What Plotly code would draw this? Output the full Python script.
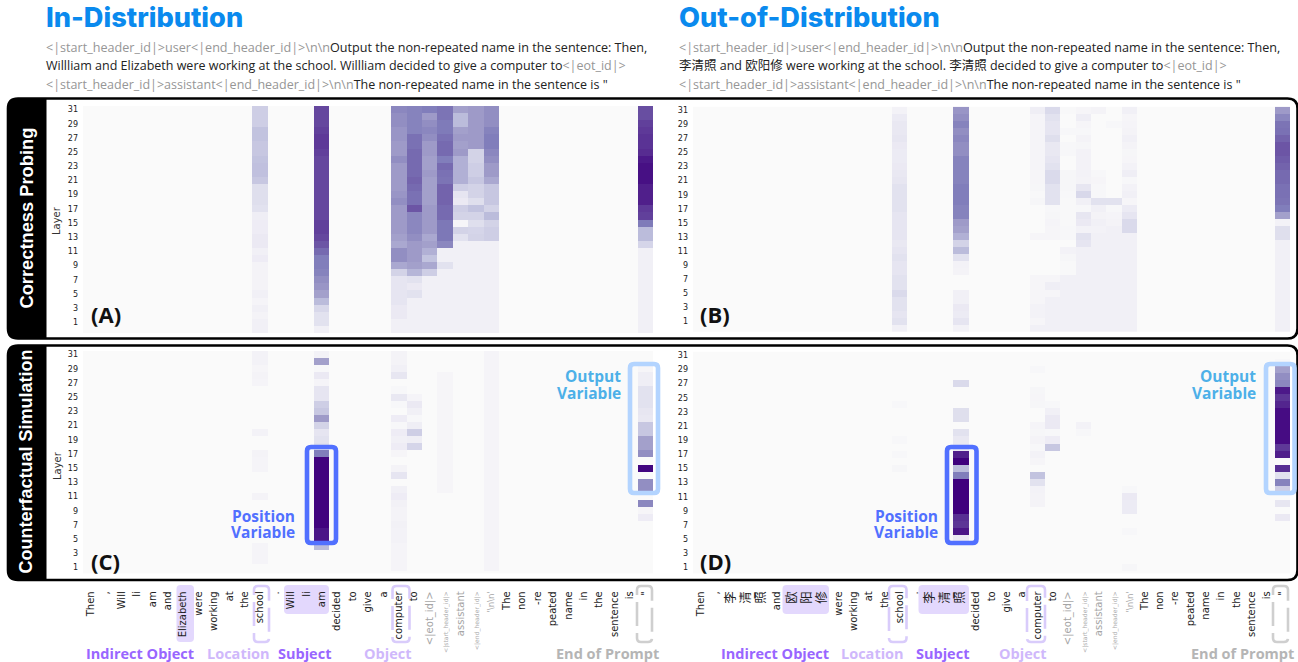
import plotly.graph_objects as go

W, H = 1298, 662

tokens_id = ["Then", ",", "Will", "li", "am", "and", "Elizabeth", "were", "working", "at", "the", "school", ".",
             "Will", "li", "am", "decided", "to", "give", "a", "computer", "to", "<|eot_id|>", "<|start_header_id|>",
             "assistant", "<|end_header_id|>", "'\\n\\n'", "The", "non", "-re", "peated", "name", "in", "the",
             "sentence", "is", "\""]
tokens_ood = ["Then", ",", "李", "清", "照", "and", "欧", "阳", "修", "were", "working", "at", "the", "school", ".",
              "李", "清", "照", "decided", "to", "give", "a", "computer", "to", "<|eot_id|>", "<|start_header_id|>",
              "assistant", "<|end_header_id|>", "'\\n\\n'", "The", "non", "-re", "peated", "name", "in", "the",
              "sentence", "is", "\""]
layers = list(range(32))
layer_ticks = list(range(1, 32, 2))

# Every column lists layers 31 -> 0 (groups: 31-21, 20-10, 9-0)
A_11 = [.30,.30,.30,.35,.35,.33,.33,.35,.36,.36,.33, .22,.22,.22,.20,.12,.13,.13,.15,.15,.10,.13, .07,.07,.07,.07,.10,.06,.10,.07,.10,.10]
A_15 = [.78,.78,.78,.80,.82,.82,.80,.78,.78,.78,.78, .78,.78,.78,.78,.78,.80,.80,.78,.74,.68,.62, .62,.60,.55,.52,.48,.38,.26,.20,.20,.10]
A_20 = [.58,.55,.55,.52,.52,.50,.50,.55,.50,.50,.50, .50,.52,.55,.50,.50,.50,.50,.48,.45,.55,.55, .45,.28,.18,.18,.18,.18,.15,.15,.10,.10]
A_21 = [.60,.60,.60,.60,.66,.66,.68,.68,.68,.68,.70, .68,.66,.66,.74,.58,.58,.58,.55,.50,.50,.50, .48,.40,.20,.15,.20,.10,.10,.10,.10,.10]
A_22 = [.62,.50,.55,.58,.55,.50,.50,.48,.48,.50,.48, .48,.48,.48,.50,.50,.50,.50,.45,.48,.42,.35, .45,.30,.10,.10,.10,.10,.10,.10,.10,.10]
A_23 = [.65,.65,.63,.63,.66,.68,.68,.62,.68,.66,.65, .70,.70,.70,.68,.68,.64,.64,.64,.58,.10,.10, .20,.10,.10,.10,.10,.10,.10,.10,.10,.10]
A_24 = [.48,.38,.38,.48,.50,.48,.50,.42,.42,.42,.42, .30,.18,.15,.30,.28,.05,.28,.20,.10,.10,.10, .10,.10,.10,.10,.10,.10,.10,.10,.10,.10]
A_25 = [.50,.50,.50,.50,.50,.50,.28,.28,.30,.30,.33, .28,.28,.22,.35,.28,.22,.27,.28,.10,.10,.10, .10,.10,.10,.10,.10,.10,.10,.10,.10,.10]
A_26 = [.55,.55,.55,.60,.62,.62,.58,.55,.50,.50,.45, .33,.33,.33,.28,.38,.28,.30,.30,.10,.10,.10, .10,.10,.10,.10,.10,.10,.10,.10,.10,.10]
A_36 = [.76,.76,.80,.82,.84,.84,.86,.92,.95,.95,.95, .90,.90,.90,.82,.80,.63,.38,.38,.27,.10,.10, .10,.10,.10,.10,.10,.10,.10,.10,.10,.10]

B_13 = [.08,.14,.16,.16,.17,.15,.14,.14,.15,.16,.17, .20,.20,.20,.20,.18,.18,.18,.18,.16,.18,.20, .18,.18,.20,.20,.25,.20,.20,.18,.20,.10]
B_17 = [.52,.55,.60,.55,.58,.55,.55,.60,.60,.60,.60, .62,.62,.62,.60,.60,.50,.48,.42,.28,.38,.20, .08,.07,.00,.00,.10,.10,.15,.14,.18,.08]
B_22 = [.12,.06,.06,.06,.06,.06,.06,.06,.06,.05,.05, .04,.02,.04,.00,.00,.00,.00,.05,.00,.00,.00, .00,.00,.05,.05,.05,.05,.08,.08,.05,.10]
B_23 = [.25,.20,.18,.18,.22,.16,.16,.18,.20,.25,.25, .20,.20,.20,.03,.04,.06,.05,.05,.00,.00,.00, .00,.00,.05,.12,.05,.10,.10,.10,.10,.10]
B_24 = [.02,.00,.00,.03,.00,.03,.03,.00,.00,.04,.04, .04,.03,.02,.02,.02,.02,.03,.03,.00,.08,.04, .02,.02,.10,.10,.10,.10,.10,.10,.10,.10]
B_25 = [.05,.12,.05,.03,.07,.04,.08,.08,.08,.08,.07, .17,.26,.10,.03,.17,.15,.08,.20,.18,.10,.10, .10,.10,.10,.10,.10,.10,.10,.10,.10,.10]
B_26 = [.07,.00,.00,.00,.00,.00,.00,.00,.00,.03,.05, .03,.03,.20,.10,.07,.10,.08,.10,.10,.10,.10, .10,.10,.10,.10,.10,.10,.10,.10,.10,.10]
B_27 = [.00,.00,.03,.00,.00,.00,.00,.00,.00,.00,.00, .00,.00,.20,.03,.06,.07,.10,.10,.10,.10,.10, .10,.10,.10,.10,.10,.10,.10,.10,.10,.10]
B_28 = [.10,.05,.06,.07,.10,.07,.04,.05,.08,.12,.03, .08,.10,.05,.14,.18,.25,.25,.10,.10,.10,.10, .10,.10,.10,.10,.10,.10,.10,.10,.10,.10]
B_38 = [.50,.58,.65,.66,.70,.74,.74,.72,.70,.68,.68, .66,.66,.65,.62,.48,.08,.22,.22,.10,.10,.10, .10,.10,.10,.10,.10,.10,.10,.10,.10,.10]

C_11 = [.08,.08,.05,.07,.06,.00,.00,.00,.00,.00,.00, .08,.00,.00,.07,.06,.06,.00,.00,.00,.07,.00, .00,.00,.00,.00,.00,.06,.06,.06,.00,.00]
C_15 = [.08,.48,.03,.15,.06,.18,.18,.30,.33,.50,.28, .18,.20,.22,.62,.99,.99,.99,.99,.99,.99,.99, .99,.99,.99,.93,.93,.38,.00,.00,.00,.00]
C_20 = [.07,.07,.10,.17,.00,.03,.16,.03,.00,.13,.03, .13,.10,.13,.05,.00,.07,.18,.00,.10,.13,.09, .07,.07,.09,.08,.08,.06,.06,.06,.06,.00]
C_21 = [.00,.00,.00,.00,.00,.00,.06,.15,.10,.03,.12, .30,.12,.27,.00,.00,.00,.00,.00,.00,.00,.00, .00,.00,.00,.00,.00,.00,.00,.00,.00,.00]
C_23 = [.00,.00,.00,.05,.05,.05,.05,.05,.05,.05,.05, .05,.05,.05,.05,.05,.05,.05,.05,.05,.00,.00, .00,.00,.00,.00,.00,.00,.00,.00,.00,.00]
C_26 = [.06,.06,.06,.06,.06,.06,.06,.06,.06,.06,.06, .06,.06,.06,.06,.06,.06,.06,.06,.06,.06,.06, .06,.06,.06,.06,.06,.06,.06,.06,.06,.00]
C_36 = [.00,.00,.05,.12,.12,.20,.20,.20,.17,.16,.33, .33,.48,.48,.55,.00,.98,.00,.55,.55,.00,.58, .05,.13,.00,.00,.00,.00,.00,.00,.00,.00]

D_13 = [.00,.00,.00,.00,.00,.00,.00,.03,.00,.00,.00, .00,.03,.00,.03,.00,.04,.00,.00,.00,.00,.00, .00,.00,.00,.00,.00,.00,.00,.00,.00,.00]
D_17 = [.00,.00,.00,.00,.25,.00,.00,.00,.22,.22,.00, .20,.16,.15,.90,1.0,.38,.62,1.0,1.0,1.0,1.0, 1.0,.85,.83,.93,.15,.00,.00,.00,.00,.00]
D_22 = [.00,.00,.03,.00,.00,.04,.05,.04,.00,.00,.06, .04,.07,.03,.08,.05,.00,.35,.20,.08,.07,.07, .00,.00,.00,.00,.00,.00,.00,.00,.00,.00]
D_23 = [.00,.00,.00,.00,.00,.00,.00,.03,.10,.15,.15, .03,.13,.33,.00,.00,.00,.00,.00,.00,.00,.00, .00,.00,.00,.00,.00,.00,.00,.00,.00,.00]
D_25 = [.00,.00,.00,.00,.00,.00,.00,.00,.00,.00,.08, .03,.00,.00,.00,.00,.00,.00,.00,.00,.00,.00, .00,.00,.00,.00,.00,.00,.00,.00,.00,.00]
D_28 = [.00,.00,.00,.00,.00,.00,.00,.00,.00,.00,.00, .00,.00,.00,.00,.00,.00,.00,.00,.03,.15,.14, .14,.00,.00,.03,.00,.00,.00,.00,.04,.00]
D_38 = [.00,.03,.48,.55,.58,.92,.83,.88,.96,.96,.96, .96,.96,.82,.90,.00,.85,.20,.60,.30,.00,.17, .00,.15,.00,.00,.00,.00,.00,.00,.00,.00]

columns_A = {11: A_11, 15: A_15, 20: A_20, 21: A_21, 22: A_22, 23: A_23, 24: A_24, 25: A_25, 26: A_26, 36: A_36}
columns_B = {13: B_13, 17: B_17, 22: B_22, 23: B_23, 24: B_24, 25: B_25, 26: B_26, 27: B_27, 28: B_28, 38: B_38}
columns_C = {11: C_11, 15: C_15, 20: C_20, 21: C_21, 23: C_23, 26: C_26, 36: C_36}
columns_D = {13: D_13, 17: D_17, 22: D_22, 23: D_23, 25: D_25, 28: D_28, 38: D_38}

colorscale = [[0, "#fafafa"], [.125, "#efedf5"], [.25, "#dadaeb"], [.375, "#bcbddc"], [.5, "#9e9ac8"],
              [.625, "#807dba"], [.75, "#6a51a3"], [.875, "#54278f"], [1, "#3f007d"]]


def fx(x): return x / W
def fy(y): return 1 - y / H


def grid(cols, n):
    z = [[0.0] * n for _ in layers]
    for c, arr in cols.items():
        assert len(arr) == 32, c
        for i, v in enumerate(arr):
            z[31 - i][c] = v
    return z


def round_path(x0, y0, x1, y1, r):
    pts = [
        f"M {fx(x0 + r)} {fy(y0)}", f"L {fx(x1 - r)} {fy(y0)}", f"Q {fx(x1)} {fy(y0)} {fx(x1)} {fy(y0 + r)}",
        f"L {fx(x1)} {fy(y1 - r)}", f"Q {fx(x1)} {fy(y1)} {fx(x1 - r)} {fy(y1)}",
        f"L {fx(x0 + r)} {fy(y1)}", f"Q {fx(x0)} {fy(y1)} {fx(x0)} {fy(y1 - r)}",
        f"L {fx(x0)} {fy(y0 + r)}", f"Q {fx(x0)} {fy(y0)} {fx(x0 + r)} {fy(y0)}", "Z"]
    return " ".join(pts)


fig = go.Figure()
panels = [
    ("", columns_A, 37, 83, 653, 106, 333, -0.5),
    ("2", columns_B, 39, 693, 1290, 106.7, 332, -0.5),
    ("3", columns_C, 37, 83, 653, 351, 573.3, 0.19),
    ("4", columns_D, 39, 693, 1290, 351.7, 573.3, 0.19),
]
layout = {}
for suf, cols, n, x0, x1, y0, y1, ybot in panels:
    fig.add_trace(go.Heatmap(z=grid(cols, n), x=list(range(n)), y=layers, xaxis="x" + suf, yaxis="y" + suf,
                             colorscale=colorscale, zmin=0, zmax=1, showscale=False, zsmooth=False))
    lower = suf in ("3", "4")
    toks = tokens_id if n == 37 else tokens_ood
    labels = []
    for t in toks:
        s = t.replace("<", "&lt;").replace(">", "&gt;")
        if "header" in t:
            labels.append(f"<span style='font-size:6.1px;color:#ababab'>{s}</span>")
        elif t in ("<|eot_id|>", "assistant"):
            labels.append(f"<span style='color:#a5a5a5'>{s}</span>")
        elif t.startswith("'"):
            labels.append(f"<span style='font-size:8.5px;color:#a5a5a5'>{s}</span>")
        elif ord(t[0]) > 255:
            labels.append(f"<span style='font-size:12.5px'>{s}</span>")
        else:
            labels.append(s)
    layout["xaxis" + suf] = dict(
        domain=[fx(x0), fx(x1)], range=[-0.5, n - 0.5], anchor="y" + suf, showgrid=False, zeroline=False,
        showline=False, ticks="", tickmode="array", tickvals=list(range(n)) if lower else [],
        ticktext=labels if lower else [], tickangle=-90, ticklabelstandoff=15, automargin=False,
        tickfont=dict(family="DejaVu Sans, Noto Sans CJK SC", size=10, color="#222222"))
    layout["yaxis" + suf] = dict(
        domain=[fy(y1), fy(y0)], range=[ybot, 31.5], anchor="x" + suf, showgrid=False, zeroline=False,
        showline=False, ticks="", tickmode="array", tickvals=layer_ticks, ticktext=[str(v) for v in layer_ticks],
        ticklabelstandoff=4, automargin=False, tickfont=dict(family="DejaVu Sans", size=8, color="#222222"))

shapes = []
for y0, y1 in ((98.5, 338.5), (345.5, 580)):
    shapes.append(dict(type="path", xref="paper", yref="paper", layer="below", path=round_path(8, y0, 1297.5, y1, 10),
                       line=dict(color="#000000", width=2.6), fillcolor="#ffffff"))
    shapes.append(dict(type="path", xref="paper", yref="paper", layer="below",
                       path=f"M {fx(46)} {fy(y0)} L {fx(18)} {fy(y0)} Q {fx(8)} {fy(y0)} {fx(8)} {fy(y0 + 10)} "
                            f"L {fx(8)} {fy(y1 - 10)} Q {fx(8)} {fy(y1)} {fx(18)} {fy(y1)} L {fx(46)} {fy(y1)} Z",
                       line=dict(color="#000000", width=1), fillcolor="#000000"))

# variable boxes
for (x0, y0, x1, y1, c) in ((307, 447, 336, 543, "#5170ff"), (947, 447, 976.5, 543, "#5170ff"),
                            (630, 364, 658, 493, "#b3d4ff"), (1266, 364, 1294.5, 493, "#b3d4ff")):
    shapes.append(dict(type="path", xref="paper", yref="paper", layer="above", path=round_path(x0, y0, x1, y1, 4),
                       line=dict(color=c, width=4.6)))

# token highlights
for (x0, x1, y1) in ((176.5, 194, 642), (284, 329, 614), (782.5, 829, 614), (918.5, 969, 614)):
    shapes.append(dict(type="path", xref="paper", yref="paper", layer="below", path=round_path(x0, 585, x1, y1, 4),
                       fillcolor="#e3d8fd", line=dict(width=0)))
for (x0, x1, c) in ((254, 269, "#d9ccfb"), (392.5, 409.5, "#d9ccfb"), (637, 652, "#cfcfcf"),
                    (889, 906.5, "#d9ccfb"), (1027, 1045, "#d9ccfb"), (1273, 1288, "#cfcfcf")):
    shapes.append(dict(type="path", xref="paper", yref="paper", layer="below", path=round_path(x0, 586, x1, 642, 4),
                       line=dict(color=c, width=2.6, dash="24px,7px")))

ann = []


def text(x, y, s, size, color, family, anchor="left", angle=0, bold=False, weight=None):
    f = dict(size=size, color=color, family=family)
    if weight:
        f["weight"] = weight
    ann.append(dict(xref="paper", yref="paper", x=fx(x), y=fy(y), text=f"<b>{s}</b>" if bold else s, showarrow=False,
                    xanchor=anchor, yanchor="middle", textangle=angle, align=anchor if anchor != "center" else "center",
                    font=f, borderpad=0, borderwidth=0))


gray = "#969696"
G = lambda s: f"<span style='color:{gray}'>{s}</span>"
for x0, title, n1, n2 in ((46, "In-Distribution", "Willliam", "Elizabeth"), (679, "Out-of-Distribution", "李清照", "欧阳修")):
    text(x0, 18, title, 27.2, "#0a8aee", "Inter", weight=800)
    text(x0, 47, G("&lt;|start_header_id|&gt;user&lt;|end_header_id|&gt;\\n\\n") +
         "Output the non-repeated name in the sentence: Then,", 12.6, "#222222", "Open Sans, Noto Sans CJK SC")
    text(x0, 65, f"{n1} and {n2} were working at the school. {n1} decided to give a computer to" +
         G("&lt;|eot_id|&gt;"), 12.5, "#222222", "Open Sans, Noto Sans CJK SC")
    text(x0, 84, G("&lt;|start_header_id|&gt;assistant&lt;|end_header_id|&gt;\\n\\n") +
         "The non-repeated name in the sentence is \"", 12.5, "#222222", "Open Sans, Noto Sans CJK SC")

text(25.5, 218, "Correctness Probing", 18.3, "#ffffff", "Liberation Sans", "center", -90, True)
text(25.5, 462, "Counterfactual Simulation", 18, "#ffffff", "Liberation Sans", "center", -90, True)
text(57, 221, "Layer", 10, "#333333", "DejaVu Sans", "center", -90)
text(57, 466, "Layer", 10, "#333333", "DejaVu Sans", "center", -90)

for x, y, s in ((91, 314, "(A)"), (700, 314, "(B)"), (91, 561, "(C)"), (700, 561, "(D)")):
    text(x, y, s, 22, "#111111", "Open Sans", bold=True)

for xr in (295, 938):
    text(xr, 516, "Position", 15.5, "#5170ff", "Open Sans", "right", bold=True)
    text(xr, 532, "Variable", 15.5, "#5170ff", "Open Sans", "right", bold=True)
for xr in (621, 1256):
    text(xr, 376, "Output", 15.5, "#4db0e8", "Open Sans", "right", bold=True)
    text(xr, 393, "Variable", 15.5, "#4db0e8", "Open Sans", "right", bold=True)

for x, s, c in ((140, "Indirect Object", "#9966ff"), (238, "Location", "#cfb8fb"), (304, "Subject", "#9966ff"),
                (387, "Object", "#cfb8fb"), (607, "End of Prompt", "#b5b5b5"),
                (775, "Indirect Object", "#9966ff"), (873, "Location", "#cfb8fb"), (942, "Subject", "#9966ff"),
                (1022, "Object", "#cfb8fb"), (1242, "End of Prompt", "#b5b5b5")):
    text(x, 653, s, 14.5, c, "Open Sans", "center", bold=True)

fig.update_layout(width=W, height=H, margin=dict(l=0, r=0, t=0, b=0, pad=0, autoexpand=False), paper_bgcolor="#ffffff",
                  plot_bgcolor="#fafafa", shapes=shapes, annotations=ann, showlegend=False, **layout)
fig.write_html("out.html", config={"displayModeBar": False},
               post_script="var s=document.createElement('style');"
                           "s.textContent='html,body{margin:0;padding:0;height:662px;overflow:hidden}"
                           "body>div{display:block;height:662px;overflow:hidden}';"
                           "document.head.appendChild(s);")
